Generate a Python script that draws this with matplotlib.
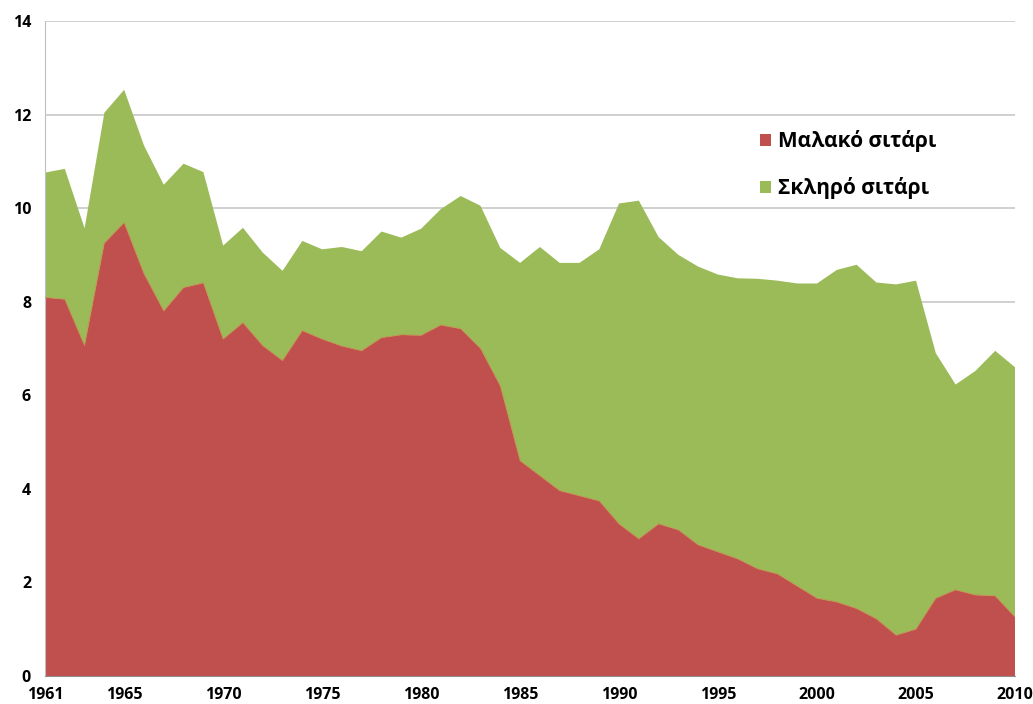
import matplotlib
matplotlib.use("Agg")
import matplotlib.pyplot as plt
import numpy as np

years = list(range(1961, 2011))
soft_wheat = [8.09, 8.05, 7.06, 9.25, 9.69, 8.6, 7.8, 8.3, 8.4, 7.2,
              7.55, 7.06, 6.74, 7.38, 7.2, 7.05, 6.95, 7.23, 7.29, 7.28,
              7.5, 7.42, 7.0, 6.2, 4.6, 4.28, 3.96, 3.85, 3.74, 3.25,
              2.93, 3.25, 3.12, 2.8, 2.65, 2.5, 2.29, 2.18, 1.92, 1.66,
              1.58, 1.44, 1.22, 0.87, 1.0, 1.66, 1.84, 1.73, 1.71, 1.26]
total = [10.76, 10.84, 9.57, 12.04, 12.53, 11.34, 10.5, 10.95, 10.77, 9.2,
         9.58, 9.05, 8.66, 9.3, 9.12, 9.17, 9.08, 9.5, 9.37, 9.56,
         9.98, 10.26, 10.05, 9.15, 8.83, 9.17, 8.83, 8.83, 9.12, 10.1,
         10.16, 9.38, 9.0, 8.75, 8.58, 8.5, 8.49, 8.45, 8.39, 8.39,
         8.68, 8.79, 8.41, 8.37, 8.45, 6.9, 6.23, 6.52, 6.95, 6.6]
durum_wheat = [t - s for t, s in zip(total, soft_wheat)]

labels = ["Μαλακό σιτάρι", "Σκληρό σιτάρι"]
colors = ["#C0504D", "#9BBB59"]
xticks = [1961, 1965, 1970, 1975, 1980, 1985, 1990, 1995, 2000, 2005, 2010]
yticks = [0, 2, 4, 6, 8, 10, 12, 14]

fig = plt.figure(figsize=(10.33, 7.04), dpi=100)
ax = fig.add_axes([45/1033, 1 - 676/704, (1015-45)/1033, (676-21)/704])

ax.stackplot(years, soft_wheat, durum_wheat, colors=colors, labels=labels,
             edgecolor="none", zorder=2)
ax.plot(years, soft_wheat, color="#C9793F", lw=0.8, alpha=0.6, zorder=3)

ax.set_xlim(1961, 2010)
ax.set_ylim(0, 14)
ax.set_xticks(xticks)
ax.set_yticks(yticks)
ax.grid(axis="y", color="#C8C8C8", lw=1.2, zorder=1)
ax.set_axisbelow(True)
for s in ["top", "right"]:
    ax.spines[s].set_visible(False)
ax.spines["left"].set_color("#BFBFBF")
ax.spines["bottom"].set_color("#909090")
ax.tick_params(length=0, labelsize=11.5, pad=8)
for lab in ax.get_xticklabels() + ax.get_yticklabels():
    lab.set_fontweight("bold")
    lab.set_fontfamily(["Open Sans", "DejaVu Sans"])
ax.tick_params(axis="y", pad=10)

leg = ax.legend(loc="upper left", bbox_to_anchor=(0.718, 0.862), frameon=False,
                prop={"family": ["Open Sans", "DejaVu Sans"], "weight": "bold", "size": 15},
                handlelength=0.5, handleheight=0.5, handletextpad=0.35,
                labelspacing=1.2)

fig.savefig("out.png", dpi=100)
